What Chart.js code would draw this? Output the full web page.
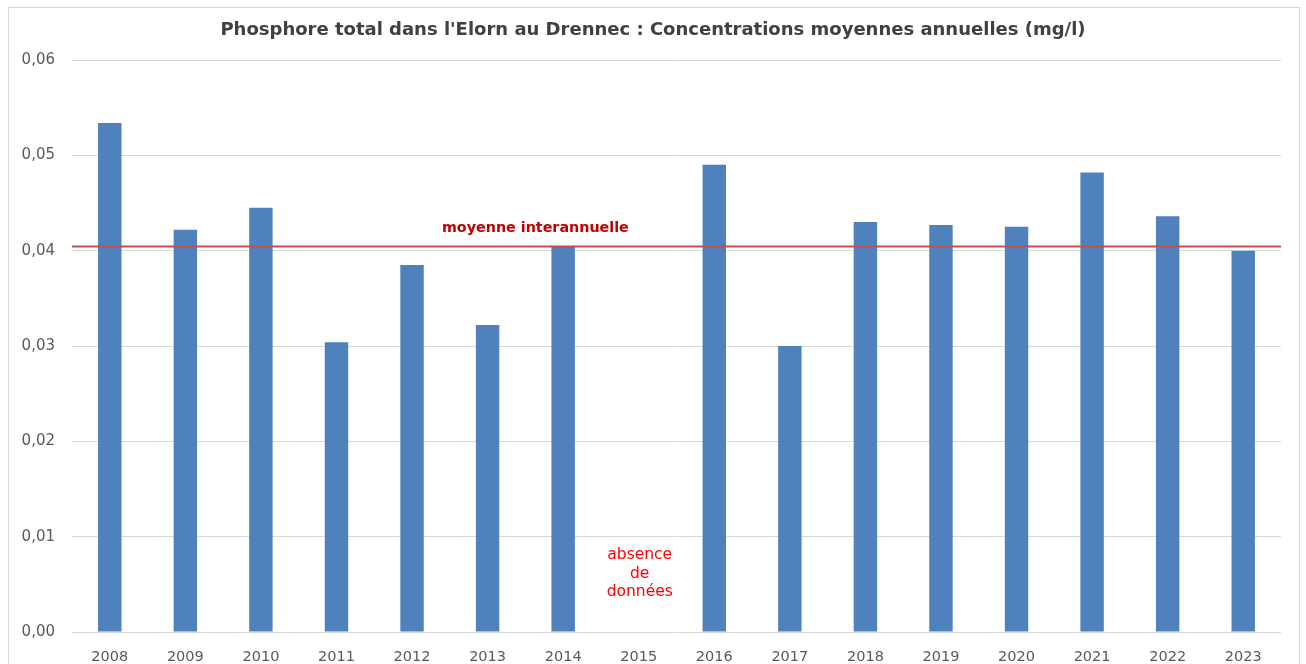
<!DOCTYPE html>
<html><head><meta charset="utf-8">
<script src="https://cdn.jsdelivr.net/npm/chart.js@4"></script>
<style>html,body{margin:0;padding:0;background:#fff;}#wrap{width:1306px;height:664px;position:relative;}</style>
</head><body><div id="wrap"><canvas id="c" width="1306" height="664"></canvas></div>
<script>
const years = ['2008','2009','2010','2011','2012','2013','2014','2015','2016','2017','2018','2019','2020','2021','2022','2023'];
const concentrations = [0.0534,0.0422,0.0445,0.0304,0.0385,0.0322,0.0405,null,0.0490,0.0300,0.0430,0.0427,0.0425,0.0482,0.0436,0.0400];
const meanValue = 0.0405;
const meanLabel = 'moyenne interannuelle';
const missingYear = '2015';
const missingLabel = ['absence','de','données'];
const titleText = "Phosphore total dans l'Elorn au Drennec : Concentrations moyennes annuelles (mg/l)";

const FONT = "'DejaVu Sans', sans-serif";

const overlay = {
  id:'overlay',
  beforeDraw(chart){
    const ctx = chart.ctx;
    ctx.save();
    ctx.fillStyle='#fff';ctx.fillRect(0,0,chart.width,chart.height);
    ctx.strokeStyle='#d9d9d9';ctx.lineWidth=1;
    ctx.strokeRect(8.5,7.5,1291,700);
    ctx.restore();
  },
  afterDatasetsDraw(chart){
    const ctx = chart.ctx, x = chart.scales.x, y = chart.scales.y, a = chart.chartArea;
    const ym = Math.round(y.getPixelForValue(meanValue))+0.5;
    ctx.save();
    ctx.strokeStyle='#C0504D';ctx.lineWidth=2;
    ctx.beginPath();ctx.moveTo(a.left,ym);ctx.lineTo(a.right,ym);ctx.stroke();
    ctx.fillStyle='#C00000';ctx.font="bold 14.3px "+FONT;ctx.textAlign='center';ctx.textBaseline='middle';
    ctx.fillText(meanLabel,(x.getPixelForValue(5)+x.getPixelForValue(6))/2 + 10, ym-18);
    const xm = x.getPixelForValue(years.indexOf(missingYear));
    ctx.fillStyle='#FF0000';ctx.font="15.5px "+FONT;
    missingLabel.forEach((t,i)=>ctx.fillText(t,xm+1,555+i*18.5));
    ctx.restore();
  }
};

new Chart(document.getElementById('c'),{
  type:'bar',
  data:{labels:years,datasets:[{data:concentrations,backgroundColor:'#4F81BD',borderWidth:0,barPercentage:0.31,categoryPercentage:1.0}]},
  options:{
    responsive:false,animation:false,
    layout:{padding:{left:0,right:0,top:0,bottom:0}},
    plugins:{legend:{display:false},tooltip:{enabled:false},
      title:{display:true,text:titleText,color:'#404040',font:{family:FONT,size:18,weight:'bold'},padding:{top:19.2,bottom:19.2}}},
    scales:{
      x:{grid:{display:false},border:{display:false},
        ticks:{color:'#595959',font:{family:FONT,size:14.5},padding:9,maxRotation:0},
        afterFit(s){s.height=32;}},
      y:{min:0,max:0.06,
        grid:{color:'#d9d9d9',lineWidth:1,drawTicks:false},border:{display:false},
        ticks:{stepSize:0.01,color:'#595959',font:{family:FONT,size:15},padding:17,
          callback:v=>v.toFixed(2).replace('.',',')},
        afterFit(s){s.width=72;}},
      yRight:{position:'right',min:0,max:0.06,grid:{display:false},border:{display:false},
        ticks:{display:false},afterFit(s){s.width=25;}}
    }
  },
  plugins:[overlay]
});
</script></body></html>
